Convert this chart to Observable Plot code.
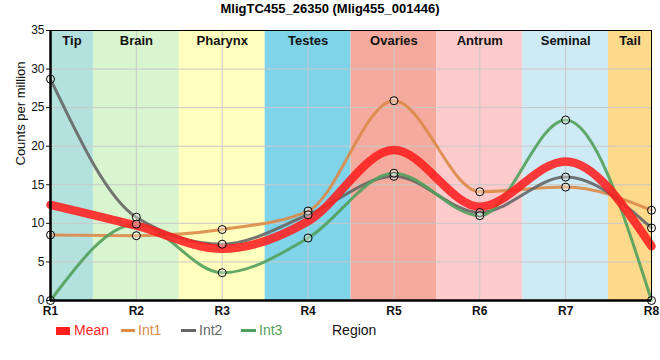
<!DOCTYPE html>
<html><head><meta charset="utf-8">
<script src="https://cdn.jsdelivr.net/npm/d3@7"></script>
<script src="https://cdn.jsdelivr.net/npm/@observablehq/plot@0.6"></script>
<style>
body{margin:0;background:#fff;font-family:"Liberation Sans",Arial,sans-serif;}
#wrap{position:relative;width:660px;height:360px;overflow:hidden;}
#title{position:absolute;top:1px;left:0;width:660px;text-align:center;font-weight:bold;font-size:13px;color:#000;}
#chart{position:absolute;top:20px;left:0;}
#legend{position:absolute;top:322px;left:0;width:660px;height:18px;font-size:14px;}
#legend span{position:absolute;top:0;line-height:17px;}
#legend i{position:absolute;display:block;}
</style></head><body>
<div id="wrap">
  <div id="title">MligTC455_26350 (Mlig455_001446)</div>
  <div id="chart"></div>
  <div id="legend"></div>
</div>
<script>
// ---- data ----
const regions = ["R1","R2","R3","R4","R5","R6","R7","R8"];
const int1 = [8.5, 8.4, 9.2, 11.6, 25.9, 14.1, 14.7, 11.7];
const int2 = [28.7, 10.8, 7.3, 11.1, 16.1, 11.4, 16.0, 9.4];
const int3 = [0, 9.9, 3.6, 8.1, 16.5, 11.0, 23.4, 0];
const bandNames = ["Tip","Brain","Pharynx","Testes","Ovaries","Antrum","Seminal","Tail"];
const bandStart = [1, 1.5, 2.5, 3.5, 4.5, 5.5, 6.5, 7.5];
const bandEnd = [1.5, 2.5, 3.5, 4.5, 5.5, 6.5, 7.5, 8];
const yTicks = [0, 5, 10, 15, 20, 25, 30, 35];
const seriesNames = ["Mean", "Int1", "Int2", "Int3"];

// ---- styles ----
const bandColors = ["#b3e2de","#d9f5cf","#ffffbe","#7fd4ea","#f4ab9d","#fdcbcb","#ceeaf4","#fdd98b"];
const seriesColors = {Mean:"#ff1f1f", Int1:"#dc8a48", Int2:"#666666", Int3:"#52a05c"};

// ---- build tables ----
const idx = regions.map((r, i) => i + 1);
const meanVals = idx.map((_, i) => (int1[i] + int2[i] + int3[i]) / 3);
const bands = bandNames.map((n, i) => ({name: n, x1: bandStart[i], x2: bandEnd[i], color: bandColors[i]}));
const series = {Int1: int1, Int2: int2, Int3: int3};
const pts = [];
for (const k of ["Int1","Int2","Int3"]) series[k].forEach((v, i) => pts.push({s: k, x: i + 1, y: v}));
const meanData = meanVals.map((v, i) => ({x: i + 1, y: v}));

const lineMark = (k) => Plot.line(series[k].map((v, i) => ({x: i + 1, y: v})),
  {x: "x", y: "y", curve: "monotone-x", stroke: seriesColors[k], strokeWidth: 3, strokeOpacity: 0.9});

const chart = Plot.plot({
  width: 660, height: 302,
  marginLeft: 50, marginRight: 9, marginTop: 10, marginBottom: 22,
  style: {fontFamily: "Liberation Sans, Arial, sans-serif", fontSize: "12px", background: "transparent", overflow: "visible"},
  x: {type: "linear", domain: [1, 8]},
  y: {domain: [0, 35]},
  color: {type: "identity"},
  marks: [
    Plot.rect(bands, {x1: "x1", x2: "x2", y1: 0, y2: 35, fill: "color"}),
    Plot.gridY(yTicks, {stroke: "#c8c8c8", strokeOpacity: 1}),
    Plot.gridX(idx, {stroke: "#c8c8c8", strokeOpacity: 1}),
    Plot.text(bands, {x: d => (d.x1 + d.x2) / 2, y: 35, dy: 10, text: "name", fontWeight: "bold", fontSize: 13, fill: "#111"}),
    lineMark("Int1"), lineMark("Int2"), lineMark("Int3"),
    Plot.line(meanData, {x: "x", y: "y", curve: "monotone-x", stroke: seriesColors.Mean, strokeWidth: 8.5, strokeOpacity: 0.88}),
    Plot.dot(pts, {x: "x", y: "y", r: 4, stroke: "#000", strokeWidth: 1, fill: "#fff", fillOpacity: 0.35}),
    Plot.ruleY([35], {stroke: "#000", strokeWidth: 1}),
    Plot.ruleX([8], {stroke: "#000", strokeWidth: 1}),
    Plot.ruleX([1], {stroke: "#000", strokeWidth: 2.5}),
    Plot.ruleY([0], {stroke: "#000", strokeWidth: 2.5}),
    Plot.axisY({ticks: yTicks, tickSize: 4, tickPadding: 2, label: null, fontSize: 12, color: "#111"}),
    Plot.axisX({ticks: idx, tickFormat: i => regions[i - 1], tickSize: 0, tickPadding: 6, label: null, fontWeight: "bold", fontSize: 12, color: "#111"}),
    Plot.text(["Counts per million"], {frameAnchor: "left", dx: -30, rotate: -90, fontSize: 13, fill: "#111"})
  ]
});
document.getElementById("chart").appendChild(chart);

// ---- legend ----
const leg = document.getElementById("legend");
const legPos = {Mean: [56, 74, 14, 8], Int1: [121, 138, 14, 3], Int2: [181, 199, 15, 3], Int3: [241, 259, 15, 3]};
for (const k of seriesNames) {
  const [sx, tx, w, h] = legPos[k];
  const sw = document.createElement("i");
  sw.style.left = sx + "px"; sw.style.width = w + "px"; sw.style.height = h + "px";
  sw.style.top = (8.5 - h / 2) + "px"; sw.style.background = seriesColors[k];
  leg.appendChild(sw);
  const t = document.createElement("span");
  t.textContent = k; t.style.left = tx + "px"; t.style.color = seriesColors[k];
  leg.appendChild(t);
}
const rl = document.createElement("span");
rl.textContent = "Region"; rl.style.left = "332px"; rl.style.color = "#111";
leg.appendChild(rl);
</script>
</body></html>
